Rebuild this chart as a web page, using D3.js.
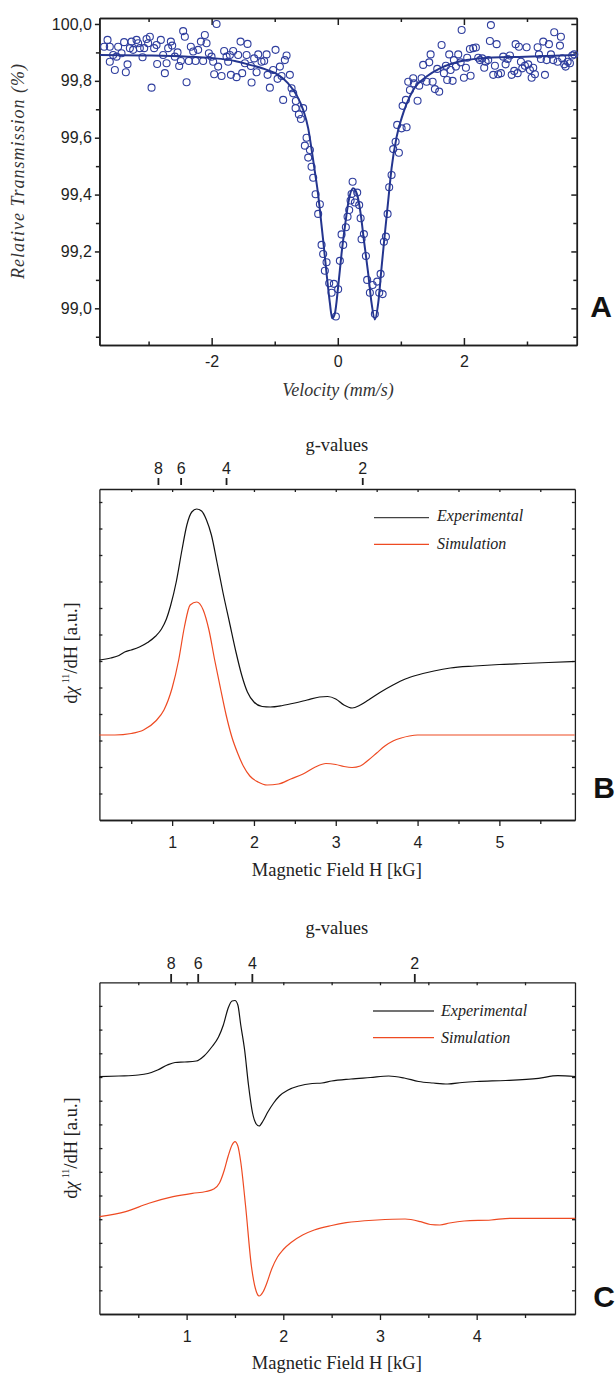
<!DOCTYPE html>
<html>
<head>
<meta charset="utf-8">
<script src="https://cdn.jsdelivr.net/npm/d3@7"></script>
<style>
  body { margin: 0; background: #fff; }
  svg { display: block; }
</style>
</head>
<body>
<svg id="fig" width="616" height="1374"></svg>
<script>
// ---------- Panel A: Mössbauer spectrum ----------
const velocity = [-3.705,-3.651,-3.615,-3.615,-3.562,-3.535,-3.508,-3.483,-3.429,-3.388,-3.361,-3.334,-3.297,-3.270,-3.245,-3.191,-3.166,-3.139,-3.096,-3.070,-3.032,-3.007,-2.980,-2.953,-2.912,-2.874,-2.864,-2.806,-2.769,-2.742,-2.715,-2.690,-2.647,-2.626,-2.584,-2.541,-2.515,-2.488,-2.452,-2.425,-2.398,-2.362,-2.330,-2.293,-2.255,-2.214,-2.171,-2.135,-2.108,-2.081,-2.044,-2.002,-1.976,-1.960,-1.922,-1.897,
-1.843,-1.802,-1.764,-1.738,-1.711,-1.695,-1.659,-1.605,-1.580,-1.542,-1.516,-1.473,-1.446,-1.431,-1.378,-1.367,-1.326,-1.288,-1.262,-1.209,-1.167,-1.129,-1.113,-1.077,-1.025,-0.987,-0.955,-0.918,-0.891,-0.866,-0.839,-0.812,-0.760,-0.733,-0.707,-0.665,-0.669,-0.617,-0.585,-0.549,-0.495,-0.522,-0.442,-0.469,-0.416,-0.390,-0.352,-0.284,
-0.311,-0.257,-0.232,-0.178,-0.205,-0.136,-0.098,-0.062,0.006,-0.030,0.033,0.086,0.060,0.128,0.155,0.181,0.203,0.235,0.219,0.271,0.308,0.339,0.362,0.414,0.377,0.446,0.466,0.509,0.552,0.588,0.625,0.679,0.657,0.711,0.731,0.763,0.790,0.815,0.853,0.879,0.917,0.969,0.942,1.012,1.091,1.028,1.080,1.265,
1.144,1.117,1.196,1.207,1.291,1.329,1.354,1.408,1.450,1.472,1.504,1.540,1.577,1.608,1.646,1.683,1.714,1.735,1.767,1.789,1.821,1.841,1.873,1.910,1.948,1.964,2.000,2.032,2.052,2.095,2.106,2.148,2.190,2.227,
2.254,2.290,2.322,2.344,2.385,2.428,2.412,2.465,2.519,2.492,2.544,2.587,2.623,2.661,2.693,2.730,2.757,2.798,2.820,2.852,2.872,2.904,2.925,2.967,2.994,3.020,3.047,3.074,3.099,3.126,3.169,3.190,3.221,3.258,3.285,3.312,3.348,3.380,3.416,3.432,3.486,3.523,3.538,3.559,3.591,3.613,3.645,3.681,3.718,3.749];

const transmission = [99.920,99.944,99.920,99.867,99.891,99.838,99.885,99.920,99.897,99.936,99.830,99.858,99.915,99.938,99.909,99.944,99.932,99.915,99.883,99.915,99.947,99.932,99.955,99.776,99.915,99.926,99.859,99.944,99.891,99.827,99.862,99.915,99.938,99.924,99.885,99.900,99.852,99.870,99.975,99.955,99.795,99.870,99.920,99.903,99.870,99.909,99.938,99.870,99.961,99.932,99.897,99.885,99.867,99.823,100.000,99.850,
99.817,99.905,99.885,99.867,99.891,99.821,99.905,99.813,99.891,99.938,99.827,99.862,99.891,99.930,99.852,99.794,99.879,99.830,99.893,99.867,99.870,99.893,99.821,99.776,99.838,99.909,99.807,99.850,99.817,99.733,99.873,99.889,99.821,99.774,99.756,99.729,99.704,99.682,99.666,99.704,99.600,99.572,99.557,99.530,99.498,99.459,99.401,99.366,
99.332,99.223,99.191,99.162,99.132,99.088,99.055,99.086,99.067,98.971,99.167,99.223,99.260,99.285,99.322,99.346,99.379,99.445,99.402,99.372,99.407,99.363,99.317,99.261,99.243,99.184,99.100,99.055,99.082,98.980,99.094,99.121,99.055,99.050,99.234,99.252,99.332,99.426,99.469,99.560,99.586,99.547,99.645,99.633,99.637,99.712,99.733,99.730,
99.768,99.797,99.809,99.791,99.783,99.809,99.856,99.797,99.865,99.893,99.797,99.771,99.842,99.762,99.926,99.827,99.853,99.803,99.893,99.838,99.800,99.873,99.850,99.893,99.865,99.979,99.811,99.846,99.881,99.912,99.818,99.915,99.917,99.881,
99.873,99.879,99.846,99.867,99.873,99.996,99.940,99.821,99.929,99.853,99.823,99.827,99.885,99.858,99.877,99.889,99.821,99.835,99.929,99.827,99.920,99.867,99.844,99.853,99.918,99.858,99.838,99.811,99.846,99.823,99.918,99.893,99.877,99.938,99.821,99.873,99.929,99.893,99.873,99.971,99.867,99.924,99.955,99.879,99.858,99.850,99.867,99.862,99.889,99.893];

// fitted doublet
const fitVelocity = [-3.772,-2.978,-1.949,-1.632,-1.421,-1.156,-0.945,-0.787,-0.653,-0.549,-0.469,-0.416,-0.363,-0.311,-0.284,-0.232,-0.178,-0.125,-0.089,-0.046,0.006,0.060,0.113,0.165,0.244,0.308,0.362,0.414,0.482,0.536,0.588,0.641,0.695,0.747,0.799,0.853,0.933,1.012,1.091,1.196,1.408,1.619,1.830,2.043,2.254,2.968,3.761];
const fitTransmission = [99.891,99.889,99.879,99.870,99.858,99.841,99.821,99.791,99.750,99.698,99.633,99.560,99.480,99.399,99.346,99.240,99.123,99.018,98.965,98.982,99.076,99.193,99.287,99.369,99.422,99.399,99.334,99.240,99.123,99.018,98.961,99.018,99.146,99.264,99.377,99.493,99.603,99.669,99.719,99.768,99.815,99.844,99.862,99.873,99.879,99.885,99.891];

const aVelocityMajor = [-2, 0, 2];
const aVelocityMinor = [-3, -1, 1, 3];
const aTransMajor = [99.0, 99.2, 99.4, 99.6, 99.8, 100.0];
const aTransMinor = [98.9, 99.1, 99.3, 99.5, 99.7, 99.9];

// ---------- Panel B: EPR spectrum ----------
const bFieldExp = [0.11,0.25,0.35,0.42,0.5,0.6,0.7,0.8,0.87,0.93,0.98,1.05,1.12,1.18,1.24,1.30,1.36,1.42,1.48,1.55,1.62,1.70,1.78,1.85,1.92,2.0,2.1,2.2,2.35,2.5,2.65,2.8,2.9,3.0,3.1,3.2,3.3,3.4,3.55,3.7,3.85,4.0,4.2,4.4,4.7,5.0,5.3,5.6,5.92];
const bSignalExp = [160,162,164.5,168,170,173,177.5,184,191,201,214,238,270,295,308,311,309,300,285,257,228,198,168,145,128,118,113.5,113,114.5,117,120,123,123.5,121,115,112,115,120,128,135,141,145,149,152,154,155.5,156.5,157.5,158.5];
const bFieldSim = [0.11,0.3,0.5,0.65,0.8,0.9,1.0,1.08,1.15,1.22,1.30,1.38,1.45,1.52,1.59,1.66,1.73,1.8,1.87,1.95,2.05,2.16,2.3,2.45,2.6,2.75,2.88,3.0,3.1,3.2,3.3,3.4,3.5,3.6,3.7,3.8,3.9,4.0,4.2,5.92];
const bSignalSim = [85,85,86.5,90,99,110,132,160,193,215,218,210,190,160,132,105,83,67,54,44,38,35,36,41,46,53,56.5,55.5,53.5,52.5,54,60,67,74,79,82,84,85,85,85];
const bFieldMajor = [1, 2, 3, 4, 5];
const bFieldMinor = [0.5, 1.5, 2.5, 3.5, 4.5, 5.5];

// ---------- Panel C: EPR spectrum ----------
const cFieldExp = [0.10,0.3,0.5,0.6,0.7,0.8,0.88,0.98,1.1,1.18,1.26,1.33,1.38,1.43,1.47,1.50,1.53,1.56,1.6,1.64,1.68,1.72,1.75,1.79,1.84,1.9,1.96,2.05,2.16,2.3,2.4,2.5,2.7,2.9,3.09,3.25,3.4,3.55,3.7,3.85,4.0,4.3,4.64,4.84,5.02];
const cSignalExp = [237.3,238,239,240.5,244,249,251.5,252,253,258,267,277,289,306,313,313.5,309,289,264,229,202,190,188,193,202,211,218,224,228,230.5,231,233,235,236.5,238,236,232.5,231,230,231.5,232.5,233.5,235.7,238.3,237.5];
const cFieldSim = [0.10,0.37,0.61,0.86,1.06,1.2,1.28,1.34,1.39,1.43,1.47,1.50,1.53,1.56,1.61,1.67,1.71,1.75,1.79,1.83,1.88,1.94,2.0,2.08,2.2,2.32,2.5,2.65,2.97,3.26,3.42,3.52,3.62,3.72,3.87,4.15,4.35,5.02];
const cSignalSim = [97.3,102.3,110.7,117.3,120.7,122.5,125,131,144,158,169,172.3,168,152,108,48,26,18,22,31,45,57,64.5,71.5,79,84,88.5,91.3,94,95,92.3,89.5,89,91,93,94,95.7,95.7];
const cFieldMajor = [1, 2, 3, 4];
const cFieldMinor = [0.5, 1.5, 2.5, 3.5, 4.5];

// g-value markers on the upper axes (field in kG = hν/μB / g)
const gValues = [8, 6, 4, 2];
const hvOverMuB_B = 6.66;
const hvOverMuB_C = 6.72;

const seriesNames = ["Experimental", "Simulation"];
const panelLetters = ["A", "B", "C"];

// ---------- drawing ----------
const SERIF = "'Liberation Serif','Times New Roman',serif";
const SANS = "'Liberation Sans',Arial,sans-serif";
const INK = "#1e1e1e";
const BLUE_PT = "#2f3e9e";
const BLUE_LN = "#24358f";
const RED = "#ee4a22";

const svg = d3.select("#fig");
const commaFmt = d3.formatLocale({decimal: ",", thousands: ".", grouping: [3], currency: ["", ""]}).format(".1f");

function styleAxis(sel, width, fontSize) {
  sel.select(".domain").attr("stroke", INK).attr("stroke-width", width);
  sel.selectAll(".tick line").attr("stroke", INK).attr("stroke-width", width);
  sel.selectAll(".tick text").attr("font-family", SANS).attr("font-size", fontSize).attr("fill", INK);
  return sel;
}

function addAxis(g, axis, transform, width, fontSize) {
  const s = g.append("g");
  if (transform) s.attr("transform", transform);
  s.call(axis);
  styleAxis(s, width, fontSize);
  return s;
}

// ===== Panel A =====
(function () {
  const left = 99.4, right = 576.8, top = 18, bottom = 345;
  const x = d3.scaleLinear().domain([-3.78, 3.79]).range([left, right]);
  const y = d3.scaleLinear().domain([98.871, 100.021]).range([bottom, top]);
  const g = svg.append("g");
  const w = 1.5;

  addAxis(g, d3.axisBottom(x).tickValues(aVelocityMajor).tickSize(-7).tickSizeOuter(0).tickPadding(11).tickFormat(d => String(d)), `translate(0,${bottom})`, w, 16);
  addAxis(g, d3.axisBottom(x).tickValues(aVelocityMinor).tickSize(-3.5).tickSizeOuter(0).tickFormat(""), `translate(0,${bottom})`, w, 16);
  addAxis(g, d3.axisTop(x).tickValues(aVelocityMajor).tickSize(-7).tickSizeOuter(0).tickFormat(""), `translate(0,${top})`, w, 16);
  addAxis(g, d3.axisTop(x).tickValues(aVelocityMinor).tickSize(-4).tickSizeOuter(0).tickFormat(""), `translate(0,${top})`, w, 16);
  addAxis(g, d3.axisLeft(y).tickValues(aTransMajor).tickSize(4.5).tickSizeOuter(0).tickPadding(3).tickFormat(commaFmt), `translate(${left},0)`, w, 16);
  addAxis(g, d3.axisLeft(y).tickValues(aTransMinor).tickSize(3.5).tickSizeOuter(0).tickFormat(""), `translate(${left},0)`, w, 16);
  addAxis(g, d3.axisRight(y).tickValues(aTransMajor).tickSize(-5.5).tickSizeOuter(0).tickFormat(""), `translate(${right},0)`, w, 16);
  addAxis(g, d3.axisRight(y).tickValues(aTransMinor).tickSize(-3.5).tickSizeOuter(0).tickFormat(""), `translate(${right},0)`, w, 16);

  const pts = velocity.map((v, i) => [v, transmission[i]]);
  g.append("g").selectAll("circle").data(pts).join("circle")
    .attr("cx", d => x(d[0])).attr("cy", d => y(d[1])).attr("r", 3.5)
    .attr("fill", "none").attr("stroke", BLUE_PT).attr("stroke-width", 1.1);

  const fit = fitVelocity.map((v, i) => [v, fitTransmission[i]]);
  g.append("path").datum(fit)
    .attr("d", d3.line().x(d => x(d[0])).y(d => y(d[1])).curve(d3.curveMonotoneX))
    .attr("fill", "none").attr("stroke", BLUE_LN).attr("stroke-width", 2);

  g.append("text").attr("transform", "translate(24,171) rotate(-90)")
    .attr("text-anchor", "middle").attr("font-family", SERIF).attr("font-style", "italic")
    .attr("font-size", 18).attr("letter-spacing", 1).attr("fill", "#333")
    .text("Relative Transmission (%)");
  g.append("text").attr("x", (left + right) / 2).attr("y", 396)
    .attr("text-anchor", "middle").attr("font-family", SERIF).attr("font-style", "italic")
    .attr("font-size", 18).attr("fill", "#333").text("Velocity (mm/s)");
  g.append("text").attr("x", 601).attr("y", 317).attr("text-anchor", "middle")
    .attr("font-family", SANS).attr("font-weight", "bold").attr("font-size", 30).attr("fill", "#111")
    .text(panelLetters[0]);
})();

// ===== EPR panels =====
function eprPanel(o) {
  const x = d3.scaleLinear().domain(o.xDomain).range([o.left, o.right]);
  const y = d3.scaleLinear().domain([0, o.bottom - o.top]).range([o.bottom, o.top]);
  const g = svg.append("g");
  const w = 1.3;

  addAxis(g, d3.axisBottom(x).tickValues(o.major).tickSize(6).tickSizeOuter(0).tickPadding(o.labelPad).tickFormat(d => String(d)), `translate(0,${o.bottom})`, w, 16);
  addAxis(g, d3.axisBottom(x).tickValues(o.minor).tickSize(4).tickSizeOuter(0).tickFormat(""), `translate(0,${o.bottom})`, w, 16);
  addAxis(g, d3.axisTop(x).tickValues(o.major.concat(o.minor)).tickSize(-3).tickSizeOuter(0).tickFormat(""), `translate(0,${o.top})`, w, 16);
  const yt = d3.range(o.yTickStep, o.bottom - o.top, o.yTickStep);
  addAxis(g, d3.axisLeft(y).tickValues(yt).tickSize(-3).tickSizeOuter(0).tickFormat(""), `translate(${o.left},0)`, w, 16);
  addAxis(g, d3.axisRight(y).tickValues(yt).tickSize(-3).tickSizeOuter(0).tickFormat(""), `translate(${o.right},0)`, w, 16);

  // g-value scale above the frame
  gValues.forEach(gv => {
    const px = x(o.hv / gv);
    g.append("line").attr("x1", px).attr("x2", px).attr("y1", o.gTickTop).attr("y2", o.gTickBot)
      .attr("stroke", INK).attr("stroke-width", 1.8);
    g.append("text").attr("x", px).attr("y", o.gLabelY).attr("text-anchor", "middle")
      .attr("font-family", SANS).attr("font-size", 16).attr("fill", INK).text(String(gv));
  });
  g.append("text").attr("x", 336.8).attr("y", o.gTitleY).attr("text-anchor", "middle")
    .attr("font-family", SERIF).attr("font-size", 18.5).attr("fill", "#222").text("g-values");

  const line = d3.line().x(d => x(d[0])).y(d => y(d[1])).curve(d3.curveMonotoneX);
  g.append("path").datum(o.fieldSim.map((f, i) => [f, o.sim[i]]))
    .attr("d", line).attr("fill", "none").attr("stroke", RED).attr("stroke-width", 1.2);
  g.append("path").datum(o.fieldExp.map((f, i) => [f, o.exp[i]]))
    .attr("d", line).attr("fill", "none").attr("stroke", "#111").attr("stroke-width", 1.2);

  // legend
  const colors = ["#444", RED];
  seriesNames.forEach((name, i) => {
    g.append("line").attr("x1", o.legX1).attr("x2", o.legX2).attr("y1", o.legLineY[i]).attr("y2", o.legLineY[i])
      .attr("stroke", colors[i]).attr("stroke-width", 1.3);
    g.append("text").attr("x", o.legTextX).attr("y", o.legTextY[i])
      .attr("font-family", SERIF).attr("font-style", "italic").attr("font-size", 16).attr("fill", "#222").text(name);
  });

  // axis titles
  const yl = g.append("text").attr("transform", `translate(77,${o.yLabelY}) rotate(-90)`)
    .attr("text-anchor", "middle").attr("font-family", SERIF).attr("font-size", 18.5).attr("fill", "#222");
  yl.append("tspan").text("d");
  yl.append("tspan").attr("font-style", "italic").text("χ");
  yl.append("tspan").attr("font-size", 10).attr("dx", 3).attr("dy", -8).text("11");
  yl.append("tspan").attr("dy", 8).text("/dH [a.u.]");

  g.append("text").attr("x", 336.8).attr("y", o.xTitleY).attr("text-anchor", "middle")
    .attr("font-family", SERIF).attr("font-size", 18.5).attr("fill", "#222").text("Magnetic Field H [kG]");
  g.append("text").attr("x", 604).attr("y", o.letterY).attr("text-anchor", "middle")
    .attr("font-family", SANS).attr("font-weight", "bold").attr("font-size", 30).attr("fill", "#111")
    .text(o.letter);
}

eprPanel({
  left: 99.4, right: 574.9, top: 489, bottom: 820, xDomain: [0.111, 5.923],
  major: bFieldMajor, minor: bFieldMinor, labelPad: 11, yTickStep: 26.5,
  hv: hvOverMuB_B, gTickTop: 478, gTickBot: 485, gLabelY: 474, gTitleY: 451,
  fieldExp: bFieldExp, exp: bSignalExp, fieldSim: bFieldSim, sim: bSignalSim,
  legX1: 374, legX2: 429, legLineY: [517.7, 544.3], legTextX: 437, legTextY: [520.6, 549],
  yLabelY: 653, xTitleY: 876, letter: panelLetters[1], letterY: 798
});

eprPanel({
  left: 99.4, right: 575, top: 982.3, bottom: 1314, xDomain: [0.098, 5.017],
  major: cFieldMajor, minor: cFieldMinor, labelPad: 10.5, yTickStep: 23.7,
  hv: hvOverMuB_C, gTickTop: 974, gTickBot: 982.3, gLabelY: 968.5, gTitleY: 934,
  fieldExp: cFieldExp, exp: cSignalExp, fieldSim: cFieldSim, sim: cSignalSim,
  legX1: 373, legX2: 434, legLineY: [1011, 1037.7], legTextX: 441, legTextY: [1016.3, 1043],
  yLabelY: 1148, xTitleY: 1369, letter: panelLetters[2], letterY: 1307
});
</script>
</body>
</html>
